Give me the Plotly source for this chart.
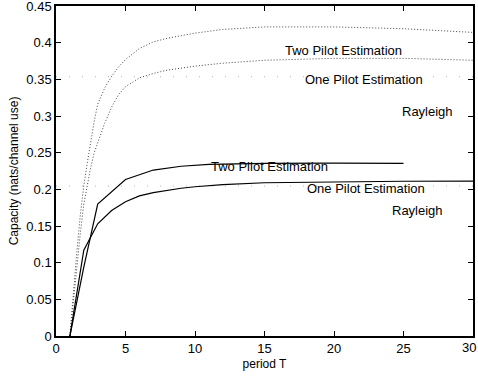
import plotly.graph_objects as go

# ---- data ----
T_two_solid = [1, 2, 3, 5, 7, 9, 11, 13, 15, 20, 25]
C_two_solid = [0, 0.094, 0.18, 0.2135, 0.2263, 0.2315, 0.234, 0.2350, 0.2355, 0.2358, 0.2354]

T_one_solid = [1, 2, 3, 4, 5, 6, 7, 8, 9, 10, 12, 15, 20, 25, 30]
C_one_solid = [0, 0.117, 0.153, 0.171, 0.183, 0.191, 0.1955, 0.199, 0.2015, 0.2035,
               0.2065, 0.209, 0.2105, 0.211, 0.2112]

T_dot = [1, 1.25, 1.5, 1.75, 2, 2.25, 2.5, 2.75, 3, 3.5, 4, 4.5, 5, 6, 7, 8, 10, 12, 15, 20, 25, 30]
C_two_dot = [0, 0.06, 0.115, 0.165, 0.205, 0.236, 0.268, 0.293, 0.316, 0.338, 0.354, 0.367,
             0.377, 0.392, 0.401, 0.406, 0.413, 0.418, 0.4215, 0.4215, 0.419, 0.414]
C_one_dot = [0, 0.05, 0.095, 0.14, 0.18, 0.208, 0.23, 0.25, 0.264, 0.29, 0.312, 0.329,
             0.34, 0.352, 0.358, 0.3625, 0.368, 0.372, 0.376, 0.3786, 0.3786, 0.376]

T_rayleigh = [0, 30]
C_rayleigh_high = [0.3535, 0.3535]
C_rayleigh_low = [0.2045, 0.2045]

x_ticks = [0, 5, 10, 15, 20, 25, 30]
x_ticktext = ["0", "5", "10", "15", "20", "25", "30"]
y_ticks = [0, 0.05, 0.1, 0.15, 0.2, 0.25, 0.3, 0.35, 0.4, 0.45]
y_ticktext = ["0", "0.05", "0.1", "0.15", "0.2", "0.25", "0.3", "0.35", "0.4", "0.45"]

labels = ["Two Pilot Estimation", "One Pilot Estimation", "Rayleigh",
          "Two Pilot Estimation", "One Pilot Estimation", "Rayleigh"]
label_T = [16.35, 17.8, 24.75, 11.0, 17.9, 24.0]
label_C = [0.39, 0.35, 0.306, 0.2307, 0.2012, 0.1706]

FONT = "Liberation Sans, Arial, sans-serif"

fig = go.Figure()
gray_dash = dict(color="#b4b4b4", width=1, dash="1px,12px")
fig.add_trace(go.Scatter(x=T_rayleigh, y=C_rayleigh_high, mode="lines", line=gray_dash))
fig.add_trace(go.Scatter(x=T_rayleigh, y=C_rayleigh_low, mode="lines", line=gray_dash))
dot_line = dict(color="#444444", width=1, dash="1px,2px")
fig.add_trace(go.Scatter(x=T_dot, y=C_two_dot, mode="lines", line=dot_line))
fig.add_trace(go.Scatter(x=T_dot, y=C_one_dot, mode="lines", line=dot_line))
solid = dict(color="black", width=1.2)
fig.add_trace(go.Scatter(x=T_two_solid, y=C_two_solid, mode="lines", line=solid))
fig.add_trace(go.Scatter(x=T_one_solid, y=C_one_solid, mode="lines", line=solid))

for txt, tx, ty in zip(labels, label_T, label_C):
    fig.add_annotation(x=tx, y=ty, text=txt, showarrow=False, xanchor="left",
                       yanchor="middle", font=dict(family=FONT, size=13, color="black"))

# last x tick label drawn slightly shifted so it stays inside the page
shown_x_text = x_ticktext[:-1] + [""]
fig.add_annotation(x=x_ticks[-1], y=0, yref="paper", text=x_ticktext[-1], showarrow=False,
                   xanchor="center", yanchor="top", xshift=-4, yshift=-2,
                   font=dict(family=FONT, size=13, color="black"))

axis_common = dict(showline=True, linecolor="black", linewidth=1.5, mirror="ticks",
                   ticks="inside", ticklen=5, tickcolor="black", tickwidth=1,
                   showgrid=False, zeroline=False, ticklabeloverflow="allow",
                   automargin=False,
                   tickfont=dict(family=FONT, size=13, color="black"))

fig.update_layout(
    width=478, height=381,
    margin=dict(l=56, r=5, t=6, b=45),
    paper_bgcolor="white", plot_bgcolor="white",
    showlegend=False,
    xaxis=dict(range=[0, 30.0001], tickvals=x_ticks, ticktext=shown_x_text,
               title=dict(text="period T", font=dict(family=FONT, size=12, color="black"),
                          standoff=4),
               **axis_common),
    yaxis=dict(range=[0, 0.450001], tickvals=y_ticks, ticktext=y_ticktext,
               title=dict(text="Capacity (nats/channel use)",
                          font=dict(family=FONT, size=12, color="black"), standoff=5),
               **axis_common),
)

fig.write_html("out.html")
